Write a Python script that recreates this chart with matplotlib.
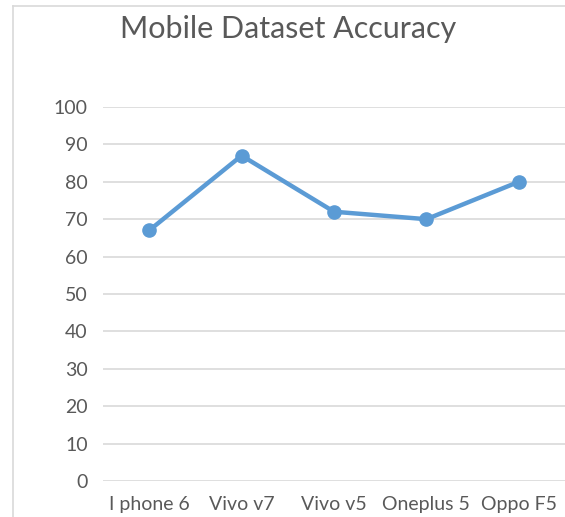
import matplotlib
matplotlib.use("Agg")
from matplotlib import pyplot as plt
from matplotlib.lines import Line2D

# data
phones = ["I phone 6", "Vivo v7", "Vivo v5", "Oneplus 5", "Oppo F5"]
accuracy = [67, 87, 72, 70, 80]
yticks = [0, 10, 20, 30, 40, 50, 60, 70, 80, 90, 100]

plt.rcParams['font.family'] = ['Lato', 'DejaVu Sans']

fig = plt.figure(figsize=(5.65, 5.17), dpi=100)
ax = fig.add_axes([103 / 565, 36 / 517, 462 / 565, 374 / 517])

# outer chart border (cropped on right and bottom)
fig.add_artist(Line2D([13 / 565, 1.0], [1 - 6 / 517, 1 - 6 / 517],
                      transform=fig.transFigure, color="#D9D9D9", lw=1.2))
fig.add_artist(Line2D([13 / 565, 13 / 565], [0, 1 - 6 / 517],
                      transform=fig.transFigure, color="#D9D9D9", lw=1.2))

x = list(range(len(phones)))
ax.plot(x, accuracy, color="#5B9BD5", lw=3.2, marker="o", markersize=9.5,
        zorder=3, clip_on=False)

ax.set_xlim(-0.5, len(phones) - 0.5)
ax.set_ylim(0, 100)
ax.set_yticks(yticks)
ax.set_xticks(x)
ax.set_xticklabels(phones)
ax.yaxis.grid(True, color="#D9D9D9", lw=1.2)
ax.set_axisbelow(True)
for s in ax.spines.values():
    s.set_visible(False)
ax.tick_params(axis="both", length=0, labelsize=14, labelcolor="#595959")
ax.tick_params(axis="y", pad=11)
ax.tick_params(axis="x", pad=11)

fig.text(288 / 565, 1 - 29 / 517, "Mobile Dataset Accuracy", ha="center",
         va="center", fontsize=22, color="#595959")

fig.savefig("out.png", dpi=100, facecolor="white")
